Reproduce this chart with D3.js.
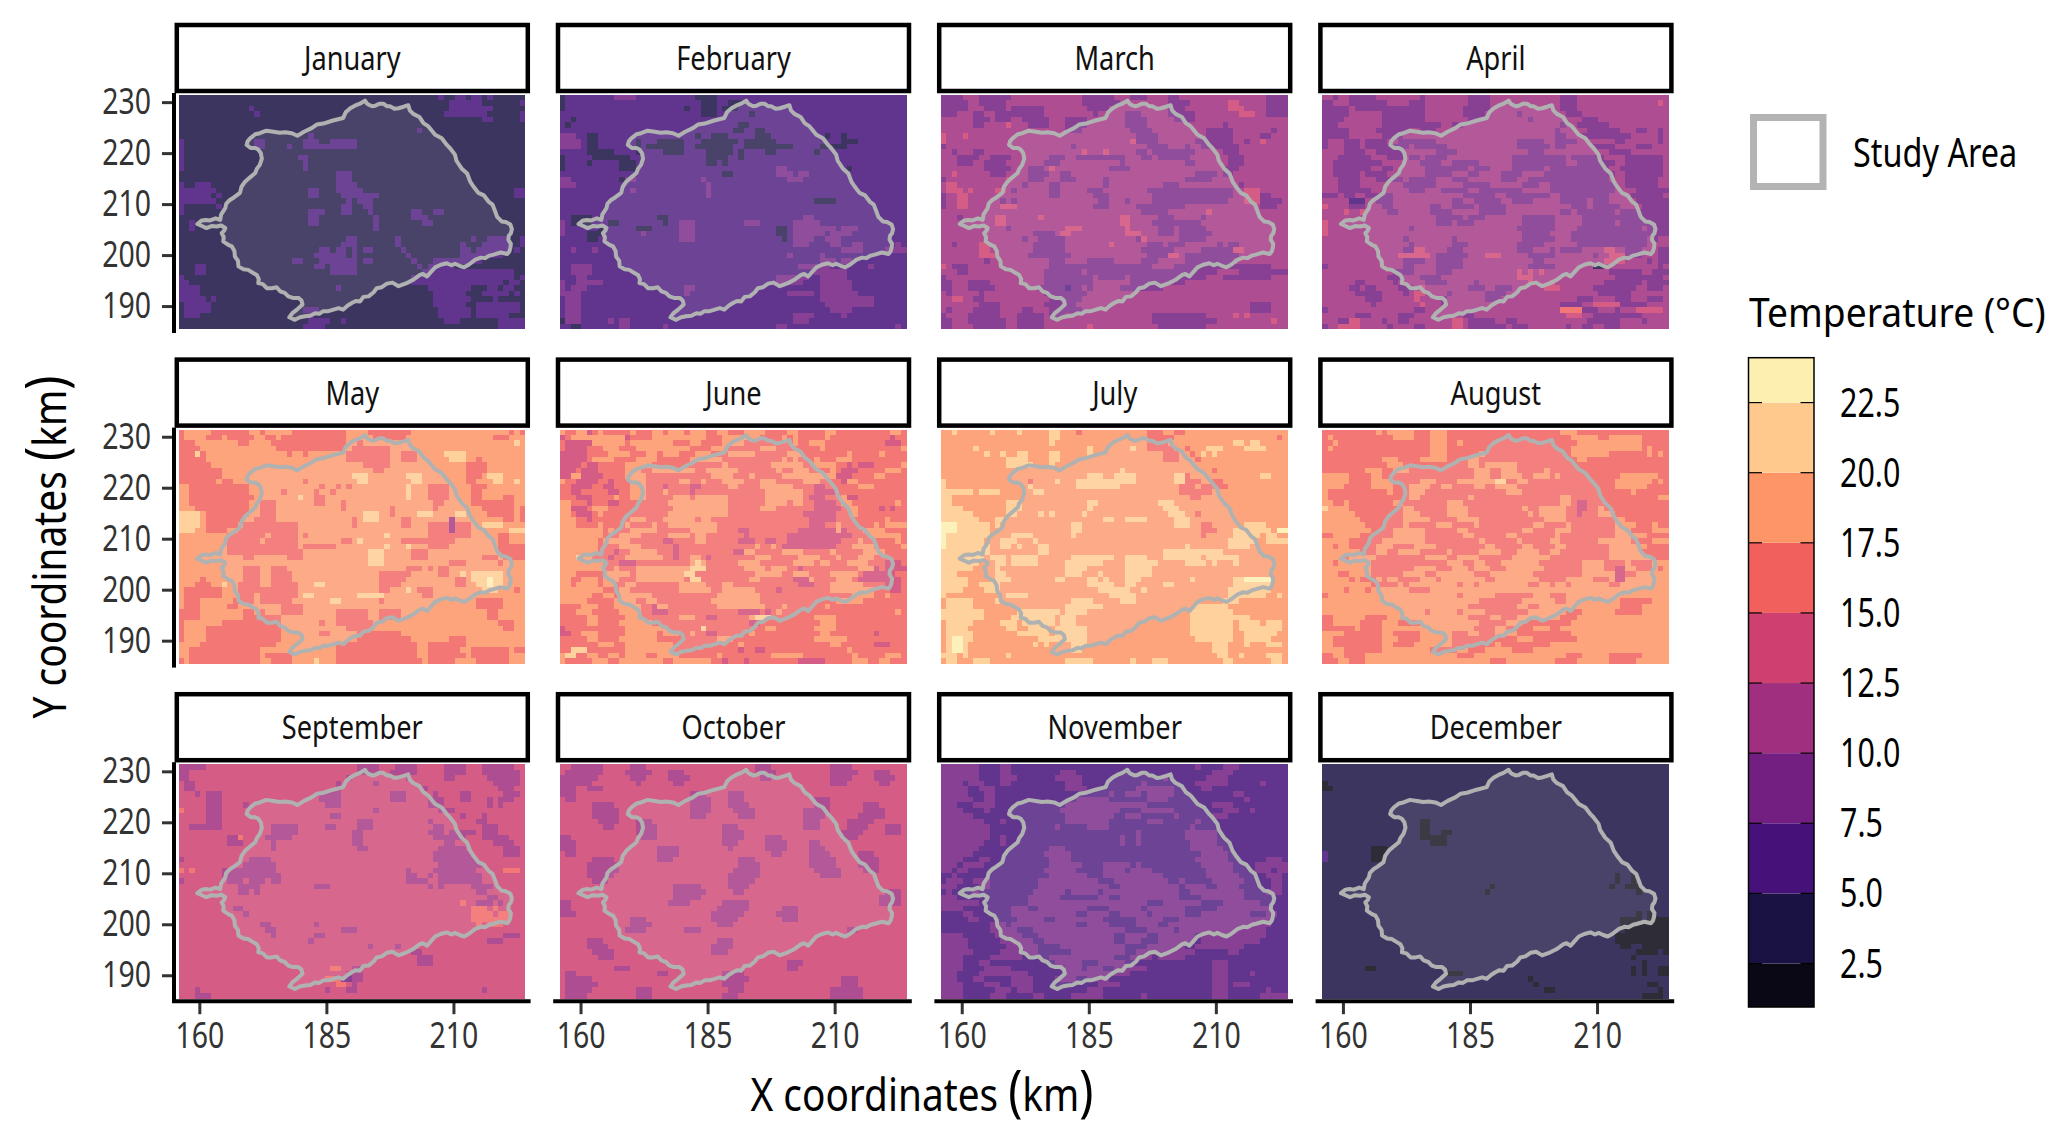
<!DOCTYPE html>
<html>
<head>
<meta charset="utf-8">
<script src="https://cdn.jsdelivr.net/npm/d3@7"></script>
<style>
  body { margin: 0; background: #fff; }
  text { font-family: "Noto Sans", "Open Sans", sans-serif; }
</style>
</head>
<body>
<div id="chart"></div>
<script>
const width = 2067, height = 1148;

const monthNames = ["January", "February", "March", "April", "May", "June", "July", "August", "September", "October", "November", "December"];
const legendBreaks = [2.5, 5, 7.5, 10, 12.5, 15, 17.5, 20, 22.5];
const legendLabels = ["2.5", "5.0", "7.5", "10.0", "12.5", "15.0", "17.5", "20.0", "22.5"];
const binColors = ["#0a0814", "#1b1244", "#46127a", "#731f82", "#a02f7f", "#ce4070", "#f1605d", "#fd9567", "#fec98d", "#fdefb0"];
const binTemps = [1.25, 3.75, 6.25, 8.75, 11.25, 13.75, 16.25, 18.75, 21.25, 23.25];
const xTicks = [160, 185, 210];
const yTicks = [190, 200, 210, 220, 230];

// Most common class of each month, and the second most common one
const baseBins = [1, 2, 4, 4, 7, 6, 7, 7, 5, 5, 2, 1];
const altBins = [2, 3, 3, 3, 6, 7, 8, 6, 4, 4, 3, 0];

// One string per raster row, north to south: "a-b" is a run of columns in the
// alternate class, "a-b:k" a run in class k. Anything else is the base class.
const january = [
  "48 51-52 54-55 57", "50-55 63", "13 50-57", "14 49-56 63", "56-57 63", "", "44", "24",
  "0 14-15 23-25 28-32", "0 14-15 20 23-32", "0", "0 22-23", "0 23", "0 23", "29-31", "29-31",
  "0 3-5 29-32", "0-6 24-25 29-33 62-63", "0-5 7 24-25 30-36 62-63", "0-6 31 33-35", "0 7 30-31 34-35",
  "0 24-26 30-31 35 43-44 47-48", "24-25 36 43-44 45", "2 24-25 36 45-46", "2 36", "", "31-32 40 54 57-60 63",
  "30-32 40 52 56-60 63", "26-27 29-30 32 34-35 41 52-53 55-60 62", "25-30 32 42 52-59", "21-22 26-32 34-35 43 47-55",
  "3-4 25-26 28-32 44 46-50", "3-4 28-32 45-61", "0 43-61 63", "0-1 43-59 61-62", "0-3 29 46-53 57-58 60-61",
  "0-3 47-52 56-60 62", "0-4 6 47-53 58", "1-5 47-52 55-62", "1-5 23-25 48-53 55-62", "1-3 24 48-53 55-60",
  "24-27 30 49-51 59-63", "23-26 59-63"
];
const february = [
  "0:1 10-13 25-28:1", "0:1 26-28:1 31-33:1", "0:1 23:1 26-28:1 30-32:1", "26-28:1 35:1", "2:1", "1:1 33-34:1",
  "32-33:1 36-37:1", "0-2 5-6:1 25:1 28-30:1 36-38:1 49:1 52:1", "0-3 5-6:1 14:1 18-22:1 26-32:1 34-39:1 52-54:1",
  "0-3 5-6:1 14:1 16-22:1 25-31:1 34-42:1 48-52:1", "5-9:1 14:1 19-22:1 27-31:1 33:1 38-39:1 47:1", "0:1 6-12:1 27-30:1 33:1",
  "0:1 5:1 11-13:1 27-28:1 30:1", "0:1 11-13:1 40-41 53:1", "30-31:1 40-42 44-45", "0-1 11:1 12-13 26 42-44", "0-2 27",
  "13 27", "27", "47-50:1", "", "", "2-5:1 18-19:1 45-46", "0 2-5:1 9-10:1 19:1 22-24 34-36 43-47",
  "0 7:1 14-16:1 22-24 40-41:1 43-50 52-54", "0 5-7:1 15 22-24 40-41:1 43-48 50-53", "5-6:1 22-24 41:1 43-46 49-51",
  "43-45 50-51 54-55 62", "2 6 52 53-55 60-63", "42 48", "48-50 52-53", "2-5 44-49 57", "2-5 47-52", "3-4 40-45 48-52",
  "0 3-7 40-44 48-53", "0 2-4 23-24 48-53", "0-3 23 42-46 48-54", "1-3 48-49 50-57", "1-3 49-57", "1-3 50-53",
  "1-3 43-45 46 52", "0:1 1-3 9 11-12 43-45", "2-3:1 11-12 19 40-41 62"
];
const march = [
  "0-3 7-12 26-31 35-37 42-43 60-63", "0-4 7-11 26-32 42-45 53-54:5 60-63", "0-4 8-11 13-18 27-30 42-44 53-55:5 60-63",
  "0-2 6-7 10-18 28 34-36 42-46 55-57:5 60-63", "6-8 10-12 15-19 23-26 34-37 43-46", "6-7 12:5 16-19 23-26 34-37 52",
  "23-25 35-38 49-53 61", "0:5 4:5 36-39 49-53 59-60", "0:5 35:5 36-39 47-53 56 59:5", "0 24 45 38-41 48-54",
  "2 6-7 26:5 30:5 36-37 39-46 52-54", "3-6 9-12 20-22 25-33 37-38 40-45 53-55", "3-5 8-11 19-21 33 45-46 53-55",
  "8-12 16-18 20:5 31-34 52-54", "2:5 9-11 16-19 22-23 50 47-49 52-53", "0 12:5 16-18 22-24 30 45-49", "1-2:5 15 20-21 30 41-43 55",
  "1-3:5 5:5 10-11:5 13 20-21 27-29 38-53 56-58:5", "0 3-4:5 20-21 28-30 39-53 56-58:5 59-60", "0 3-4:5 11 13 29-30 34 39-52 56-58:5 59-62",
  "0:3 3-4:5 11-13:5 30 28-30 36-44 59-61", "38-41 49:5 37-41", "3 10-11:5 18:5 33-34:5 40-42 48",
  "10-11:5 33-34:5 39-41 42-47", "12 23-25:5 34:5 40-42 44-48", "22-23:5 17-20 35:5 34-36:5 40-42 44-49", "15 18-22 36 37:5 44-48",
  "2 7-8:5 17-22 31:5 38-40 42-44 51 53-54", "7-8:5 17-22 37-42 48-55 54-55:5", "7-9:5 16-23 38-41 42:5 43:5 45-54",
  "8 20-22 27-31 37-39 45-53", "0:5 2-4 20-26 27-38 43-60", "3-4 19-25 27-33 34-50 55-63", "0 19-27 29-33 35-48 52-60",
  "0-1 5-8 19-27 35-44", "0-1 5-9 18-25 23:2 27 33-40", "1 7 19-26", "2-3:5 6-7 20-25", "7-9 9-10 19-24 57-60",
  "1 6-10 15-16 20-25 57-60", "0 5-10 14-18 20-22 39-48 54:5 56:5", "0-1 5-11 14-18 39-50 61:5", "0-1 6-11 14-18 27:5 40-48"
];
const april = [
  "2 5-9 18 27-30 44-46", "0-1 5-11 16-18 27-30 44-46 62:5", "0-4 6-18 26-30 44-46", "0-4 11-18 26-29 36 45-47", "0-3 11-18 27-28 38 48-50",
  "0-2 11-21 24-25 44 47-52", "0-4 10-15 18-20 43 49-54 58-59 62", "0-4 11-14 43-44 48-56 62", "0 4-6 8-11 14-20 36-40 43-46 54-55 62",
  "0 4-6 8-15 17-22 36-41 43-44 50-53 58-60", "4-7 10-14 21-24 38-40 53-56", "3-8 12-14 16-17 19-22 35-44 46-51 56-62",
  "2-10 18-21 24-28 35-44 47-53 56-62", "2-8 11-12 19-26 28-30 35-40 42-52 55-62", "2-6 8-11 19-23 27-28 33-34 35-36 41-53 56-59 60-62",
  "3-6 10-14 16-20 24-26 33-34 35 38-43 44-52 56-61", "3-6 15-20 26-30 37-39 42-53 56-61", "3-8 16-18 22-26 29-36 42-53 58-63",
  "0-2 4-5 8-12 26-31 34-41 44-52 57-62", "5-7:2 10-12 24-25 28-32 35-38 44-48 50-52 58-63", "0:5 5-7 11-12 20-21 24-27 29-33 46-48 50-54 59-63",
  "4:5 7:5 12-13 20-23 29-33 44-45 47-53 55-63", "21-25 27-29 37-42 48-52 53-63", "0:5 21-23 25-27 37-42 48-53 55-63", "0:5 16 36-42 47-54 55-58 60-63",
  "0:5 37-41 46-60 61-63", "15 24 37-42 37 46-59 61", "16 24-26 36-40 47-59", "15-18 17-18:5 23-25 36-38 42 44-47 52-53:5 56-58 62-63", "14-19:5 21-26 30:5 31-32:5 38-42 50 53-55:5 56-58 62-63",
  "15-18 21-25 39-40 52-55:5 60 62-63", "0 15-16 21-25 38-41 42 50-51:1 62", "13-16 21-23 36:5 38:5 40:5 53-58 61-63", "12-14 18-21 36-38:5 54-62",
  "6-7 13 19-22 28 38:5 42:5 52-58 60-63", "5-6 8-9 14-16 18:5 27-29 32-34 41-43:5 50-57 60-62", "6-7 8-10 15 17-18:5 23 30-31 32-33 51-56",
  "8-10 17:5 22 30-32 47-49 54-56 60-62", "9 18:5 22 44-47 50-53:5 54:5 55-59", "0 17-18 44-47:6 48-50 54 58-60:5 61-62:5", "6-8 14-16 26-27 45-47:5 50-58",
  "3-4 5-6:5 11 14-15 24-25:5 27-31 34-35 49-52 53-54 59", "0 3-6:5 12 17-18 24-25:5 27-33 35-37 45 48-49 52-54"
];
const may = [
  "0 6-12 15 21-30 35-42 61 63", "0 5-7 9-13 16-17 19-30 36-41 58-60", "0-2 11-12 17-30 33 62:8", "0-3 18-30 32-38",
  "0-2 3:8 4 20 23 31-38 41-43 49-52:8", "0-4 31-38 41-43 50-52:8 55", "0-5 34-38 53-56", "0-7 36-37 53-56",
  "0-7 32-34:8 42-44:8 53-55 57-59:8", "0-6 8-9 23 33-34:8 43-44:8 53-54 58-59:8 62:8", "2-12 26 29 31 42:8 46-49 54-56",
  "2-12 19 25 28 42:8 46-49 54-55", "2-13 22:8 25-26 42:8 46-49 54-55 60-61", "2-12 15-17 25-26 30 47-48 54-59 60-61",
  "3-12 15-17 30 39 47 56-59 60-61 63", "0-3:8 5-12 15-17 34-36:8 39 44-46:8 51-52:8 57-59 60-61 63", "0-3:8 5-11 14-17 32 34-36:8 41-42 60-61 50:4 63",
  "0-3:8 5-10 12-21 32 41-42 46-53 50:4 56-59:8", "0-2:8 5-8 11-21 46-53 50:4 61-63:8", "9-15 17-21 23 38:8 46-53 59-60",
  "9-14 16-21 30-31 33:8 41-50 59-60", "9-21 23-28 38:8 42:8 46-49 59-63", "9-19 20-22 35-37:8 43-45 59-63", "12-13 20-22 35-37:8 43-45 56-58 60-63",
  "35-37:8 50-52 59", "12-14 17-19 42-44 46 48-49", "12-14 17-20 37-42 48-49 52:8 54-59:8", "4 12-14 17-20 37-41 51-52 54-59:8 57:9",
  "3-5 8:8 11-14 17-21 25-26:8 37-40 51-52 55-59:8 57:9", "1-7 11-14 15-21 37-38 42:8 44-46 56-58:8 62", "1-7 11-13 15-21 23-24:8 33-36:8 37:8 45-46",
  "1-3 10-13 15-20 28-29:8 37 55-59", "1-3 9-10 19-22 55-59", "0-3 12-13 15 19-22 29-34 37-40 57-58", "0-3 12-18 29-34 37-40 57-58",
  "0 8-18 26 29-35 59-61", "0 5-18 31-35 60-61", "0 5-18 26-27 33-40", "0 5-18 33-42 50-52", "4-17 29-43 46-52", "2-14 29-43 46-51 54-60 62-63",
  "2-14 16-20 29-43 46-52 54-60", "0 2-14 17-20 25:8 29-44 46-50 55-60"
];
const june = [
  "0 3-4 5:5 7 13 17-18 20-22 24-26 29-30 34-37 42-43 49-50 61-62", "0:5 2-11 12:5 17-19 20-26 30-36 41 43 49 61:5", "1-5:5 6-11 13-20 24-25 30-33 43 46-48 60-62:5", "1-4:5 8-10 14-21 22-23 28-30 37-39 48 63",
  "0-4:5 9-12 16-17 19-21 25-27 31-35 42-44 53 59", "0-4:5 6-9 14 15-17 24-29 41 43 47 51-53", "0-3:5 5-6:5 12-16 30 39-44 47-50 53:5 55-57:5 63", "0-2:5 4-6:5 12-14 17-24 27-32 40 43-45 50 52-54:5 60-62",
  "2-4 0-1:5 4-7:5 12-15 28-31 35 41-46 47-52 51-53:5 58-59", "0 3-6:5 9:5 13-15 22-23 26 30-33 37-39 45-47 52-53:5 53-54", "2-5:5 8-9:5 13-15 19:5 24-25:5 31-32 37-40 37-42 47-48:5 55-57", "2-3:5 9-10:5 13-15 19 24:5 38-42 41-44 47-50:5",
  "3-5:5 10 13-15 21-23 25-30 38-44 46-48:5 52 53-54:5", "0-1 5:5 9-10:5 20-24 25-30 38-41 43-44 47-50:5 52-53 62", "0-3 2-4:5 6-8 21-30 37-39 47-51:5 53-54 59:5 61:5", "0-1 3-5:5 7 20-30 45-50:5 54",
  "0-2 5:5 13-15 19-24 26-27 46-50:5 60", "0-2 7 12 17 20-28 46-48:5 51 58 60-63", "0-7 9 13-17 24-28 33-34:5 44-52:5 51 56-59", "0-7 11-14 20-23 25-26 34:5 42-45:5 46-53:5 57-62", "0-6 8-12 19-20:5 25-26 33-35:5 38-39:5 42-43 42-51:5 55 62",
  "0-6 11-14 21:5 36 41-50:5 39 54-57 63", "0-6 10:5 13-17 21:5 33-35 32-33:5 41-44 50 56-59", "0-5 3:8 9:5 12-18 24-25 21:5 27:5 36-38 44-47 55-57 51",
  "0-7 11-13:5 24-26 25:8 33-36 43-46 48-49 53-56 60-62:5", "0-7 10 14-24 24-26:8 34-37 39-41 44:5 55-57 58:5 60-63:5", "0-2 8-12 14-22 23-24:8 36-40 43-45 50 51-54 56-61:5",
  "0-1 4-6 8-10 14-22 24-25:8 35-36 43-45:5 46 51-53 55-58:5 59-62:5", "0-1 3-6 8-9 12-13 22-26 30-31 44-46:5 50-55 60-62:5", "0-3 4-7 11-12 22-27 30-35 40:5 50-57 61-62:5", "0-5 8-9 11-12 13-14 15-16 29-36 54-57 60",
  "0-4 10-13 16-17 28-36 51-55", "4-6 10-14 17-19 17:5 29-37 41 33-35 49", "3-5 11-12 13-14 17-19:5 33-36:5 38:5 40 62", "5-6 12-14 22-24 27-28:5 35 36-38:8 47-50", "5-6 11-16 35-36:5 48-50",
  "0:5 12-17 17-19 26:8 38-39 47-50", "0-1:5 4-6 12-17 19-21 24 27-28:5 35 48-49 58:5", "5-6 11-17 29-31 29 47-52", "7-9 12-20 33 50-51 58-60:5", "2-4:8 12-20 33:5 36-37:5 53",
  "1-2:8 0 5-6 9-10 12-15 18-21 29 39-44 54 60-62", "0 6-8 11-18 21-27 30:5 34:5 44-48:5 54-56 59-60"
];
const july = [
  "2 9 14 20-21 25:6 38-40:6 43-44:6", "20-21 38-42:6 62:6", "20 38-41:6 54-55 57-58", "6 27 35 38-42:6 45:6 49-51 56-59", "8 11 14-15 20-21 27 41-43:6 46:6 48 50",
  "12-15 20-21 41-43:6 47:6", "12-16 20", "33 50:6", "27-29 32-35 43-44 45:6 59-60", "0 16:6 21 25-31 32-35 43-44 45-47:6 50-51:6", "0 16 25-32 44-46:6 48-52:6",
  "0-5 7-10 17-18 44-46:6 47-49:6", "0-1 46-47:6", "0-1 12-14 27-28 40-42", "0-3 12-14 27 41-43", "0-5 12-13 18 20 26 42-44 47:6", "0-6 10-11 30-31 34-37 43-45",
  "0-2:9 3-8 10 24-25 43-45 48-49:6 56-59", "0-2:9 3-8 24-25 48-49:6 50:6 54-60 62-63:9", "0:9 1-8 13-16 24 48:6 54-58 60-61", "0:9 1-7 11-13 17 53-57 60-63",
  "0:9 1-8 11-12 14 18-19 45 53-56", "0-8 18-19 41-51", "0-7 9-11 13-17 24-31 34-37 41-47 49-54", "0-6 10-11 13-17 23-29 34-39 45-48 50 54", "0-5 10 23-26 34-38",
  "0-2 10-11 23-25 29 34-38", "0-4 10-12 21-22 27-28 30 34-36 46 54-60 56-60:9", "0-4 7-10 27-31 34-35 41-42 54-60", "0-3 8-10 29-34 37 53-60", "0 12-15 31-35 53-59 62",
  "1-5 10 24-27 33-35 52-54", "1-5 23-29 47-52", "0-7 14-21 23-26 46-53", "0-7 13-20 22-24 46-53 54-56", "1-5 11-13 15-20 22-24 46-53 55-58 60-62", "1-4 12-13 16-19 21-26 46-53 55-62",
  "1-5 14-19 21-26 46-53 56-61", "1-5 2-3:9 18-26 47-53 56-60", "1-4 2-3:9 17 19 24-26 50-52 56 60-62", "1-4 2-3:9 24-25 50-52", "0-2 4 12 51-52 55 60-62", "1-2 6-8 23-27 35 39-41 52-53 61-62"
];
const august = [
  "0-63 10:7 12-16:7 20-22:7 44-46:7", "0-63 1:7 13-16:7 20-22:7 46-50:7 53-58:7", "0-63 2:7 20-22:7 25:7 47-53:7 54-58:7", "0-63 1:7 20-22:7 46-58:7 60:7", "0-63 20-22:7 29:7 46-52:7 60:7 62:7",
  "0-63 11-13:7 18-22:7 27-28:7 47-48:7", "0-63 12-14:7 27-28:7 30-35:7", "0-63 8-10:7 13-15:7 28-30:7 33-35:7 41:7", "0-63 0-4:7 9-10:7 28-30:7 33-36:7 39-41:7 43:7 55-61:7", "0-63 0-4:7 9-12:7 18-20:7 25-31:7 32-33:8 36-37:7 54-60:7 62:7",
  "0-63 0-3:7 9-12:7 16-19:7 22-23:7 28-29:7 32-35:7 54-59:7", "0-63 0:7 12:7 16-18:7 34-36:7 57:7", "0-63 0:7 16-17:7 27:7 44-45:7 62-63:7", "0-63 0-1:7 4:7 13-14:7 23-25:7 44-45:7 47-48:5",
  "5-14 17-22 27-36 38-39 45-50 47-48:5 52-63 0:8", "6-14 18-22 27-37 39 45-50 47:5 54-63", "7-14 20-24 29-40 45-53 56-63", "8-14 16-20 24-27 29-38 41-44 46-53 58-60 62-63", "9-12 19-24 27-36 39-42 46-53 57-60", "0-1 7-12 19-25 28-33 36-42 44-53 60-63",
  "3:7 5-10 19-28 30-35 37-41 44-50 57-60", "2 5-9 13-16 21-29 32-36 39-42 45-52 60-63", "7-9 12-13 18-22 24-28 33-35 40-41 44-52 59-63", "4 10-15 16-18 23-24 29-34 42-52 61-63", "2 9-17 18-22 26-27 30-32 40-47 52-55 57-60",
  "9-16 21-23 27 31-33 41-47 52-53 54-55:5 58-60 62", "3-4 9-14 19-20 28-30 39-47 54-55:5 56-57", "5 7-9 11 14-17 21 30-31 40-44 50-52 54-55:5", "9-13 15 25 28 38-39 42 45 53-54", "4 8 16-19", "0 25 32-38 42-44", "29-36 43-44 55-60",
  "27-35 38-39 55-58", "19 25 30-37 45-47 54-58", "0-1 8-11 27-30 33-35 44-46", "0-1 7-10 14-17 29-33 37-45", "0-5 7-10 28-31 34-38 42-43", "4-10 13-17 24-26 29-31 36-45", "2-10 14-17 24-35 39-46", "2-10 13-16 24-31 33-41", "4-10 20-24 27-29 35-38", "0-1 4-7 25-27 45-47 53-58", "0-2 5-7 31-33 43-46 53-57"
];
const september = [
  "0-4 33-36 40-43 49-52 56-61", "0-1 33-36 39-43 49-52 56-62", "0-1 31 42 49-50 57-62", "1-2 29 36 58-62", "1-2 29 45 59-61", "3 5-7 26-29 39-41 47 52-53 60-62", "5-7 26-29 39-41 46-48 52-53 57 59-61", "5-7 12 27-29 46-48 57 59",
  "0:6 5-7 36 48-50", "5-7 28-29 52 56", "5-7 33-35 46 55-56", "2-5 6-7 17-21 27-28 33-35 47-48 56-58", "17-21 32-33 46-48 50-54 56-58", "9-10 11:6 16-20 32-33 47-52 56-60", "9-11 17 32-33 49-50 58-61", "17 33-34 48-52 60-62", "47-53 60-62",
  "0 13-16 47-50 51-52 53-54", "12-17 48-54 55", "0:6 8-10 11-17 2:6 42 47-52 53-54 60-62:6", "8-12 13-18 42-43 46 48-52 53-55", "0 9-11 13-15 17-18 42-44 45 48-52 53-55", "11-13 14 25-27 46 48 54-55 56-57", "11-12 14 55-56", "57-58", "55-57 59 52:6",
  "10 11 54-56:6 58:6", "12 54-57:6 59-60:6", "54-56:6 57-60:6", "15-16 25 55:6 57-59:6", "16-17 30-32", "17 25-26 60-62", "24 57-59", "35 40", "43-44", "44-46", "44-46", "28-29:6 32-33", "31 32-33", "27-29:6 30-31:3 32-33", "29-30:6 32", "3 27 31-32 56", "3-5"
];
const october = [
  "2-7 13-15 36-38 50-53", "1-7 12-16 20-22 36-39 50-54 58-60", "0-6 13-15 20-23 37-38 50-53 58-61", "0-5 14 21-22 50-52 59-60", "0-2 5-7", "0-2 24-26 31-33", "1-2 24-27 31-33 47-49",
  "6-9 24-27 31-34 47-49 56-58", "6-10 24-27 32-35 45-49 56-59", "6-10 24-26 33-35 45-48 55-59", "7-10 14-16 45-47 53-57", "8-9 14-17 30-32 45-47 53-56 60-62", "14-17 30-33 52-55 60-62", "0-1 15-17 30-33 38-40 52-54", "0-2 30-32 38-41 46-47",
  "0-2 18-21 31 38-41 46-48", "1-2 18-21 39-40 46-49 55-57", "6-9 18-20 33-35 46-50 55-58", "5-10 33-36 46-50 55-58", "5-10 32-36 47-51 56-58", "5-9 31-36 48-51", "6-8 31-35", "21-25 31-34",
  "21-26 32-33 60-62", "21-25 59-62", "0-1 20-23 30-34 59-62", "0-1 29-34 41-43", "0-2 28-33 40-43", "13-15 28-32 41-43", "13-16 29-31", "12-15 23-25 53-54", "", "5-7 29-31", "5-8 28-31", "6-9 28-30", "7-9",
  "42-44", "10-12 42-43", "1-2 18-19 30-33", "1-5 30-34 52-54", "1-6 30-33 52-54", "1-5 14-16 31-33 50-55", "1-4 14-16 30-32 50-55"
];
const november = [
  "0-6 11-12 47 52-54", "0-6 11-12 22-24 50-53", "0-6 11-13 21-25 49-52 41", "0-3 5-7 11-12 23-25 37 47-52 59", "0-4 7-9 23-26 36-42 48-49", "0-4 8-9 31 34-36 38-42 54-55", "0-5 8-9 25-30 38-41 56",
  "0-2 6-9 23-33 34-37 50-53", "0-3 8 22-32 37-42 52-54 57", "0-5 23-31 34-36 43 50-52", "0-7 11 23-30 38-40 47", "0-8 21 27-30 46", "0-8 36 45-50", "0-8 11 33 36 45-50", "0-7 11 33 36 46-50",
  "0-6 20-22 46-51", "0-5 19-23 48-52", "0-3 7-8 20-23 47-52 60-62", "0-2 4-7 20-25 30-34 36 48-53 58-63", "0-1 3-4 19-24 30-33 35-38 49-53 58-60 62-63", "2 20-26 30-40 49-54 60-62", "1-3 6-8 18-28 32-41 44 50-55 61-62", "0-2 7-8 18-30 33-43 45-48 51-54 61-62", "1 6 17-22 24-28 30-43 46-55 60-62",
  "0-2 16-21 29-30 33-43 48-55", "0-6 16-30 31-37 41-47 52-58", "0-3 13-15 18-26 31-36 38-44 51-60", "4-5 13-24 27-30 33-37 39-44 48-56 60-61", "5-6 14-18 21-23 24-29 36-40 44-60", "9-11 13-24 27-30 36-39 42-60",
  "9-13 17-28 29-33 38-42 44-59", "0-3 10-14 18-31 34-37 40-46 48-59", "0-4 11-16 19-31 34-36 40-46 48-58", "0-4 12-17 22-33 38-44 47-55", "0-5 11-17 24-33 36-46 53-54", "0-3 9-14 20-31 35-38 40-44", "0-3 7-8 21-25 29-33 50-52",
  "0-3 8-12 23-25 27-29 32-37 50-52", "0-2 7-12 13-15 23-34 50-52 57", "0-2 6-7 13-16 21-24 27-30 50-52", "0-3 8-10 13-16 29-32 50-52 54-56", "0-3 10-12 14-16 27-29 50-52 60", "0-3 9-11 17-18 24-29 37 50-52 59-63"
];
const december = [
  "", "", "", "0", "0-1", "", "", "", "", "", "18-19", "18-19", "18-19 22-23", "18-22", "20-22", "9-11", "0:2 9-11", "0:2 9-11", "", "", "54 57", "54 57", "31 53 56-58", "30 58", "", "", "", "58 60", "55-57 58 60-63",
  "55-63", "56-63", "54-63", "54-63", "55-56 59-63", "58-61 63", "57", "59", "8-9 57 59 62-63", "23-25 57 59 62-63", "38", "39 60-61", "41-42 62", "59-62"
];

const grids = [january, february, march, april, may, june, july, august, september, october, november, december];

// The outline of the study area, km
const areaX = [192.6, 193.0, 193.3, 194.0, 194.6, 195.4, 196.2, 196.9, 197.5, 198.4, 199.2, 200.2, 201.1, 201.4, 202.1, 203.3, 204.1, 205.0, 206.4, 207.7, 208.7, 209.3, 210.3, 210.6, 211.6, 212.7, 213.3, 213.9, 214.9, 216.0, 216.9, 217.7, 218.2, 218.6, 219.5, 220.3, 221.2, 221.5, 221.3, 220.9, 220.8, 221.3, 221.2, 221.0, 220.6, 219.3, 217.9, 217.1, 216.2, 215.4, 214.3, 213.0, 212.1, 211.2, 210.3, 209.6, 208.7, 207.5, 206.4, 205.5, 204.8, 204.0, 203.4, 202.0, 200.8, 200.0, 199.2, 198.0, 196.9, 195.9, 194.9, 194.3, 193.3, 192.3, 191.6, 190.8, 190.0, 189.2, 188.3, 187.4, 186.4, 185.4, 184.4, 183.6, 182.8, 181.8, 180.8, 179.8, 178.8, 177.7, 178.3, 179.2, 180.3, 180.1, 179.5, 178.4, 177.5, 176.8, 175.9, 175.2, 174.3, 173.3, 172.5, 171.6, 171.7, 171.3, 170.6, 169.6, 168.7, 167.7, 167.6, 167.0, 166.9, 166.4, 165.7, 164.7, 164.8, 164.4, 164.9, 165.1, 164.3, 163.4, 162.4, 161.4, 160.5, 159.6, 160.5, 161.3, 162.1, 163.2, 164.1, 164.3, 165.1, 165.3, 166.0, 166.8, 168.0, 168.3, 169.0, 169.8, 171.0, 171.3, 171.9, 172.3, 172.1, 171.6, 171.0, 170.1, 169.3, 169.5, 170.0, 171.0, 171.9, 173.2, 174.6, 175.8, 176.9, 178.2, 179.3, 180.6, 182.1, 183.1, 184.4, 186.3, 188.3, 188.8, 189.7, 190.6, 191.6];
const areaY = [230.3, 229.7, 229.5, 229.2, 229.3, 229.7, 229.7, 229.2, 229.2, 228.7, 228.8, 229.1, 229.4, 228.4, 227.7, 227.1, 225.9, 225.3, 223.6, 222.9, 221.6, 221.0, 219.7, 218.5, 217.0, 216.0, 214.4, 213.5, 212.2, 211.7, 210.5, 209.9, 208.6, 207.5, 206.6, 206.5, 206.0, 205.1, 204.3, 203.8, 203.0, 202.2, 201.4, 200.7, 200.2, 200.5, 200.1, 199.9, 199.4, 199.5, 199.1, 198.1, 197.6, 197.9, 198.3, 198.0, 198.4, 198.1, 197.6, 196.6, 195.8, 196.3, 196.1, 195.1, 194.5, 194.2, 193.9, 194.6, 194.4, 193.7, 193.5, 192.7, 191.9, 191.8, 190.9, 191.0, 190.6, 190.1, 189.3, 189.6, 189.3, 189.0, 189.0, 188.5, 188.6, 188.1, 188.0, 187.8, 187.3, 187.8, 188.6, 189.3, 190.3, 191.1, 191.6, 191.6, 191.9, 192.6, 192.9, 193.7, 193.5, 193.5, 194.3, 194.5, 195.3, 196.1, 196.5, 197.1, 197.2, 197.8, 198.9, 199.7, 200.8, 201.7, 202.0, 202.7, 203.5, 204.3, 204.8, 205.3, 205.8, 205.6, 205.7, 205.3, 205.7, 206.1, 206.8, 206.9, 206.8, 207.2, 206.9, 208.0, 209.2, 210.1, 210.8, 211.3, 212.2, 213.4, 214.4, 215.1, 216.1, 216.9, 217.7, 218.9, 220.0, 220.7, 221.0, 221.0, 221.6, 222.3, 222.9, 223.7, 223.9, 224.4, 224.2, 224.0, 224.1, 223.9, 223.4, 224.2, 224.9, 225.6, 225.8, 226.4, 226.9, 228.0, 228.8, 229.3, 229.7];

const nCols = 64, nRows = 43;
const xDomain = [155.9, 224.1], yDomain = [185.5, 231.4];
const panelW = 346.6, panelH = 234;
const panelLeft = 178.5, panelTop = 95, stepX = 381.2, stepY = 334.6;

const svg = d3.select('#chart').append('svg')
    .attr('width', width)
    .attr('height', height);

const x = d3.scaleLinear().domain(xDomain).range([0, panelW]);
const y = d3.scaleLinear().domain(yDomain).range([panelH, 0]);
const color = d3.scaleThreshold().domain(legendBreaks).range(binColors);
const cellW = (xDomain[1] - xDomain[0]) / nCols;
const cellH = (yDomain[1] - yDomain[0]) / nRows;

const line = d3.line().x(d => x(d[0])).y(d => y(d[1])).curve(d3.curveLinearClosed);
const areaPoints = d3.zip(areaX, areaY);

// The reference uses a condensed face, none is installed, so squeeze the glyphs
function narrow(sel, factor) {
    sel.each(function () {
        d3.select(this)
            .attr('textLength', this.getComputedTextLength() * factor)
            .attr('lengthAdjust', 'spacingAndGlyphs');
    });
}

// Expands a month's run strings to a list of cells
function decode(rows, base, alt) {
    const cells = [];
    for (let r = 0; r < nRows; r++) {
        const row = new Array(nCols).fill(base);
        (rows[r] || "").split(" ").filter(t => t).forEach(t => {
            const [span, k] = t.split(":");
            const [a, b] = span.split("-").map(Number);
            const bin = k === undefined ? alt : +k;
            for (let c = a; c <= (b === undefined ? a : b) && c < nCols; c++) row[c] = bin;
        });
        row.forEach((bin, c) => cells.push({ c: c, r: r, temp: binTemps[bin] }));
    }
    return cells;
}

monthNames.forEach((name, i) => {
    const col = i % 4, row = Math.floor(i / 4);
    const g = svg.append('g')
        .attr('transform', `translate(${panelLeft + col * stepX},${panelTop + row * stepY})`);

    // raster
    g.append('g')
        .attr('opacity', 0.85)
        .selectAll('rect')
        .data(decode(grids[i], baseBins[i], altBins[i]))
        .join('rect')
        .attr('x', d => x(xDomain[0] + d.c * cellW))
        .attr('y', d => y(yDomain[1] - d.r * cellH))
        .attr('width', x(xDomain[0] + cellW) - x(xDomain[0]) + 0.3)
        .attr('height', y(yDomain[1] - cellH) - y(yDomain[1]) + 0.3)
        .attr('fill', d => color(d.temp))
        .attr('shape-rendering', 'crispEdges');

    // study area
    g.append('path')
        .attr('d', line(areaPoints))
        .attr('fill', '#fff')
        .attr('fill-opacity', 0.07)
        .attr('stroke', '#b0b2b2')
        .attr('stroke-width', 4)
        .attr('stroke-linejoin', 'round');

    // strip
    g.append('rect')
        .attr('x', -1.7).attr('y', -70).attr('width', 351).attr('height', 66)
        .attr('fill', '#fff').attr('stroke', '#000').attr('stroke-width', 4.5);
    g.append('text')
        .attr('x', panelW / 2 + 0.5).attr('y', -25)
        .attr('text-anchor', 'middle')
        .attr('font-size', 32)
        .attr('fill', '#111')
        .text(name)
        .call(narrow, 0.85);

    if (col === 0) {
        const yAxis = g.append('g').attr('transform', 'translate(-6.5,0)')
            .call(d3.axisLeft(y).tickValues(yTicks).tickSize(10).tickPadding(11));
        yAxis.select('.domain').remove();
        yAxis.selectAll('.tick line').attr('stroke', '#333').attr('stroke-width', 3);
        yAxis.selectAll('.tick text').attr('font-size', 36).attr('fill', '#333')
            .attr('font-family', '"Noto Sans", sans-serif').call(narrow, 0.79);
        g.append('line').attr('x1', -4.5).attr('x2', -4.5).attr('y1', -2).attr('y2', panelH + 4)
            .attr('stroke', '#000').attr('stroke-width', 4);
    }
    if (row === 2) {
        const xAxis = g.append('g').attr('transform', `translate(0,${panelH + 4})`)
            .call(d3.axisBottom(x).tickValues(xTicks).tickSize(12).tickPadding(8));
        xAxis.select('.domain').remove();
        xAxis.selectAll('.tick line').attr('stroke', '#333').attr('stroke-width', 3);
        xAxis.selectAll('.tick text').attr('font-size', 36).attr('fill', '#333')
            .attr('font-family', '"Noto Sans", sans-serif').call(narrow, 0.79);
        g.append('line').attr('x1', -6.5).attr('x2', panelW + 5.5).attr('y1', panelH + 3).attr('y2', panelH + 3)
            .attr('stroke', '#000').attr('stroke-width', 4);
    }
});

// axis titles, the brackets come out larger and heavier in the original
function axisTitle(sel, label, transform) {
    sel.attr('text-anchor', 'middle').attr('font-size', 46).attr('fill', '#000');
    sel.append('tspan').text(label + ' ');
    sel.append('tspan').attr('font-size', 56).text('(');
    sel.append('tspan').text('km');
    sel.append('tspan').attr('font-size', 56).text(')');
    const w = sel.node().getComputedTextLength();
    sel.attr('transform', `${transform} scale(${343 / w},1)`);
}
svg.append('text').call(axisTitle, 'X coordinates', 'translate(922,1111)');
svg.append('text').call(axisTitle, 'Y coordinates', 'translate(66,547) rotate(-90)');

// study area key
svg.append('rect')
    .attr('x', 1753.5).attr('y', 117.5).attr('width', 69.5).attr('height', 69)
    .attr('fill', '#fff').attr('stroke', '#b3b3b3').attr('stroke-width', 7);
svg.append('text')
    .attr('x', 1853).attr('y', 167).attr('font-size', 40).attr('fill', '#000')
    .text('Study Area').call(narrow, 0.81);

// colour steps
svg.append('text')
    .attr('x', 1749).attr('y', 327).attr('font-size', 40).attr('fill', '#000')
    .text('Temperature (°C)').call(narrow, 0.93);

const legendY = d3.scaleLinear().domain([0.95, 24.1]).range([1007, 357.7]);
const legendEdges = [0.95, ...legendBreaks, 24.1];
svg.append('g').selectAll('rect')
    .data(binColors)
    .join('rect')
    .attr('x', 1748.5)
    .attr('width', 65.5)
    .attr('y', (d, i) => legendY(legendEdges[i + 1]))
    .attr('height', (d, i) => legendY(legendEdges[i]) - legendY(legendEdges[i + 1]))
    .attr('fill', d => d);
svg.append('rect')
    .attr('x', 1748.5).attr('y', 357.7).attr('width', 65.5).attr('height', 649.3)
    .attr('fill', 'none').attr('stroke', '#000').attr('stroke-width', 1.5);
legendBreaks.forEach((b, i) => {
    svg.append('line').attr('x1', 1748.5).attr('x2', 1762).attr('y1', legendY(b)).attr('y2', legendY(b))
        .attr('stroke', '#000').attr('stroke-width', 1.2);
    svg.append('line').attr('x1', 1800.5).attr('x2', 1814).attr('y1', legendY(b)).attr('y2', legendY(b))
        .attr('stroke', '#000').attr('stroke-width', 1.2);
    svg.append('text')
        .attr('x', 1840).attr('y', legendY(b) + 14).attr('font-size', 40).attr('fill', '#000')
        .text(legendLabels[i]).call(narrow, 0.76);
});
</script>
</body>
</html>
